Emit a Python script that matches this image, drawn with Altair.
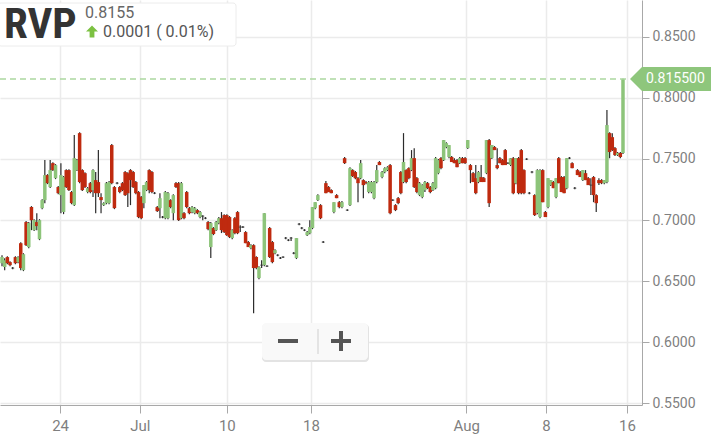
import altair as alt
import pandas as pd

# OHLC candles, oldest first
open_px = [
    .6646, .6614, .6696, .6655, .6606, .6696, .6655, .6810, .6589, .6983,
    .6778, .7106, .6917, .6983, .6843, .7097, .7163, .7368, .7270, .7466,
    .7343, .7270, .7204, .7065, .7409, .7409, .7229, .7122, .7409, .7712,
    .7409, .7384, .7229, .7302, .7245, .7327, .7311, .7188, .7122, .7138,
    .7138, .7614, .7270, .7302, .7270, .7302,
    .7393, .7384, .7409, .7393, .7311, .7229, .7188, .7138, .7245, .7409,
    .7393, .7220, .7106, .7097, .7024, .7015, .7015, .7163, .7056, .7302,
    .7302, .7015, .7056, .7229, .7097, .7065, .7056, .7081, .7024, .7032,
    .7015, .6983, .6778, .6934, .6917, .6975, .7015, .7040, .7040, .7024,
    .6852, .7015, .7065, .6942, .6942, .6901, .6819, .6770, .6794, .6696,
    .6524, .6630, .6630, .6622, .6934, .6819, .6728, .6712, .6688, .6696,
    .6852, .6835, .6852, .6728, .6688, .6966, .6934, .6917, .6876, .6892,
    .6934, .7097, .7163, .7122, .6819, .7302, .7270, .7245, .7065, .7204,
    .7146, .7106, .7507, .7081, .7122, .7409, .7393, .7343, .7343, .7327,
    .7311, .7229,
    .7229, .7179, .7311, .7475, .7352, .7393, .7409, .7450, .7163, .7122,
    .7179, .7393, .7311, .7409, .7425, .7409, .7507, .7343, .7204, .7188,
    .7245, .7302, .7270, .7245, .7261, .7384, .7507, .7491, .7598, .7516,
    .7516, .7491, .7491, .7466, .7507, .7507, .7589, .7450, .7384, .7343,
    .7311, .7352, .7343, .7384, .7655,
    .7507, .7598, .7450, .7507, .7491, .7573, .7466, .7450, .7507, .7302,
    .7507, .7573, .7409, .7499, .7220, .7393, .7204, .7056, .7024, .7409,
    .7065, .7106, .7286, .7311, .7188, .7507, .7352, .7352, .7261, .7507,
    .7466, .7261, .7409, .7393, .7327, .7384, .7343, .7286, .7352, .7204,
    .7327, .7327, .7302, .7311, .7712, .7679, .7589, .7532, .7549, .7549,
]
high_px = [
    .6712, .6687, .6704, .6663, .6614, .6704, .6704, .6818, .6728, .6991,
    .6983, .7114, .7007, .7056, .7007, .7171, .7491, .7376, .7491, .7474,
    .7458, .7278, .7466, .7360, .7417, .7417, .7237, .7696, .7499, .7720,
    .7417, .7392, .7270, .7311, .7417, .7393, .7573, .7220, .7146, .7311,
    .7319, .7622, .7278, .7311, .7278, .7311,
    .7401, .7392, .7417, .7401, .7319, .7237, .7196, .7286, .7319, .7417,
    .7401, .7229, .7114, .7220, .7032, .7237, .7229, .7171, .7212, .7311,
    .7311, .7311, .7065, .7237, .7106, .7114, .7106, .7089, .7073, .7040,
    .7024, .6991, .6983, .6942, .6991, .7024, .7065, .7048, .7048, .7032,
    .6925, .7024, .7073, .6958, .6950, .6909, .6827, .6802, .6802, .6704,
    .6622, .6671, .7056, .6630, .6942, .6827, .6761, .6720, .6696, .6704,
    .6860, .6843, .6860, .6737, .6852, .6975, .6942, .6925, .6909, .6999,
    .7106, .7146, .7212, .7130, .6827, .7319, .7278, .7253, .7146, .7212,
    .7155, .7155, .7516, .7089, .7433, .7417, .7401, .7352, .7491, .7335,
    .7319, .7319,
    .7319, .7319, .7450, .7483, .7401, .7433, .7441, .7458, .7171, .7130,
    .7188, .7401, .7712, .7417, .7433, .7573, .7589, .7352, .7311, .7294,
    .7319, .7311, .7278, .7311, .7516, .7499, .7516, .7655, .7638, .7614,
    .7524, .7507, .7499, .7516, .7516, .7516, .7655, .7458, .7393, .7450,
    .7401, .7450, .7352, .7655, .7663,
    .7614, .7606, .7589, .7516, .7499, .7581, .7474, .7507, .7516, .7507,
    .7516, .7581, .7417, .7507, .7229, .7401, .7212, .7417, .7417, .7417,
    .7073, .7343, .7327, .7319, .7343, .7516, .7360, .7360, .7507, .7516,
    .7474, .7270, .7417, .7401, .7409, .7409, .7352, .7343, .7360, .7212,
    .7343, .7335, .7327, .7901, .7720, .7712, .7598, .7557, .7557, .8158,
]
low_px = [
    .6622, .6589, .6638, .6622, .6597, .6638, .6646, .6589, .6581, .6786,
    .6769, .6917, .6909, .6917, .6835, .7089, .7138, .7294, .7262, .7401,
    .7335, .7212, .7056, .7048, .7262, .7237, .7130, .7114, .7401, .7302,
    .7237, .7262, .7220, .7220, .7188, .7056, .7188, .7056, .7114, .7130,
    .7130, .7294, .7089, .7294, .7220, .7237,
    .7196, .7106, .7122, .7262, .7212, .7015, .7007, .7097, .7237, .7220,
    .7220, .7212, .7065, .7015, .7015, .7007, .7007, .7097, .6999, .7262,
    .6991, .7007, .7007, .7097, .7048, .7056, .7048, .7048, .7015, .6999,
    .7007, .6917, .6688, .6876, .6909, .6966, .6893, .6893, .6868, .6852,
    .6843, .6884, .6884, .6901, .6934, .6810, .6778, .6761, .6236, .6597,
    .6515, .6606, .6622, .6614, .6688, .6646, .6720, .6704, .6680, .6688,
    .6843, .6827, .6827, .6720, .6680, .6958, .6925, .6909, .6868, .6884,
    .6925, .7089, .7155, .7007, .6811, .7220, .7229, .7220, .7056, .7179,
    .7097, .7097, .7458, .7073, .7114, .7352, .7335, .7146, .7335, .7179,
    .7294, .7220,
    .7220, .7171, .7302, .7450, .7343, .7384, .7401, .7048, .7155, .7073,
    .7130, .7212, .7302, .7302, .7335, .7401, .7262, .7220, .7196, .7179,
    .7229, .7253, .7220, .7237, .7253, .7376, .7417, .7483, .7589, .7507,
    .7475, .7466, .7433, .7458, .7466, .7458, .7581, .7302, .7311, .7212,
    .7302, .7311, .7311, .7376, .7106,
    .7499, .7573, .7417, .7466, .7450, .7450, .7458, .7442, .7212, .7294,
    .7212, .7212, .7212, .7491, .7212, .7384, .7032, .7048, .7015, .7146,
    .7024, .7097, .7278, .7261, .7179, .7302, .7229, .7220, .7253, .7499,
    .7425, .7253, .7368, .7352, .7319, .7327, .7286, .7204, .7146, .7065,
    .7286, .7294, .7294, .7302, .7507, .7565, .7524, .7524, .7507, .7540,
]
close_px = [
    .6696, .6671, .6646, .6630, .6606, .6646, .6696, .6606, .6720, .6794,
    .6975, .6999, .6999, .6950, .6999, .7163, .7368, .7302, .7409, .7409,
    .7450, .7220, .7368, .7352, .7270, .7245, .7138, .7507, .7491, .7311,
    .7245, .7270, .7261, .7229, .7409, .7220, .7220, .7163, .7138, .7302,
    .7311, .7302, .7097, .7302, .7229, .7245,
    .7204, .7220, .7327, .7270, .7220, .7024, .7015, .7286, .7311, .7245,
    .7229, .7220, .7073, .7179, .7024, .7229, .7220, .7106, .7204, .7270,
    .6999, .7302, .7015, .7106, .7056, .7106, .7097, .7056, .7065, .7032,
    .7015, .6925, .6975, .6885, .6983, .7015, .6917, .6901, .6876, .6860,
    .6917, .6892, .6892, .6942, .6942, .6810, .6778, .6794, .6606, .6606,
    .6614, .6630, .7056, .6622, .6696, .6655, .6753, .6712, .6688, .6696,
    .6852, .6835, .6852, .6728, .6852, .6966, .6934, .6917, .6901, .6942,
    .7106, .7146, .7204, .7015, .6819, .7220, .7229, .7220, .7146, .7179,
    .7106, .7146, .7466, .7081, .7425, .7360, .7343, .7302, .7466, .7286,
    .7302, .7311,
    .7311, .7311, .7409, .7450, .7393, .7425, .7433, .7056, .7163, .7081,
    .7138, .7220, .7475, .7311, .7343, .7507, .7270, .7229, .7302, .7286,
    .7311, .7261, .7229, .7302, .7507, .7491, .7425, .7655, .7630, .7614,
    .7475, .7466, .7433, .7507, .7466, .7466, .7655, .7409, .7311, .7220,
    .7393, .7311, .7311, .7655, .7138,
    .7614, .7573, .7425, .7466, .7450, .7450, .7466, .7507, .7220, .7507,
    .7220, .7220, .7220, .7499, .7220, .7393, .7040, .7409, .7409, .7146,
    .7024, .7343, .7327, .7261, .7343, .7302, .7229, .7220, .7507, .7507,
    .7425, .7261, .7368, .7352, .7409, .7327, .7286, .7286, .7204, .7138,
    .7302, .7302, .7327, .7778, .7557, .7573, .7532, .7549, .7516, .8155,
]

# x-axis ticks, placed on the candle index
tick_pos = [21.7, 51.5, 84.0, 115.4, 173.4, 203.2, 233.5]
tick_labels = ["24", "Jul", "10", "18", "Aug", "8", "16"]
price_ticks = [0.55, 0.60, 0.65, 0.70, 0.75, 0.80, 0.85]

symbol = "RVP"
last_text = "0.8155"
change_text = "0.0001 ( 0.01%)"

UP = "#8dc47a"
DOWN = "#bf2a0f"
WICK = "#2b2b2b"
AXIS_GREY = "#a8a8a8"
LABEL_GREY = "#7f7f7f"
FONT = "Roboto"

n = len(open_px)
candles = pd.DataFrame({
    "i": list(range(n)),
    "open": open_px,
    "high": high_px,
    "low": low_px,
    "close": close_px,
})
candles["dir"] = ["up" if c >= o else "down" for o, c in zip(open_px, close_px)]

last = pd.DataFrame({"price": [close_px[-1]], "label": [f"{close_px[-1]:.6f}"]})
one = pd.DataFrame({"k": [0]})

x_scale = alt.Scale(domain=[-0.75, 239.1], nice=False, zero=False, padding=0)
y_scale = alt.Scale(domain=[0.5484, 0.8803], nice=False, zero=False, padding=0)

label_expr = (
    "[" + ",".join(f"'{t}'" for t in tick_labels) + "]"
    + "[indexof([" + ",".join(str(p) for p in tick_pos) + "], datum.value)]"
)

x_axis = alt.Axis(
    values=tick_pos, labelExpr=label_expr, title=None,
    grid=True, gridColor="#ebebeb", gridWidth=1.5,
    domainColor=AXIS_GREY, tickColor=AXIS_GREY, tickSize=8,
    labelColor=LABEL_GREY, labelFontSize=15, labelFont=FONT,
    labelPadding=5, labelFlush=False,
)
y_axis = alt.Axis(
    orient="right", values=price_ticks, format=".4f", title=None,
    grid=True, gridColor="#ebebeb", gridWidth=1.5,
    domainColor=AXIS_GREY, tickColor=AXIS_GREY, tickSize=7,
    labelColor=LABEL_GREY, labelFontSize=14, labelFont=FONT,
    labelPadding=3, labelFlush=False,
)


def X(field):
    return alt.X(field, scale=x_scale, axis=x_axis, title=None)


def Y(field):
    return alt.Y(field, scale=y_scale, axis=y_axis, title=None)


wicks = alt.Chart(candles).mark_rule(color=WICK, strokeWidth=1.2).encode(
    x=X("i:Q"), y=Y("low:Q"), y2="high:Q"
)
bodies = alt.Chart(candles).mark_bar(size=3.5).encode(
    x=X("i:Q"), y=Y("open:Q"), y2="close:Q",
    color=alt.Color("dir:N", scale=alt.Scale(domain=["up", "down"], range=[UP, DOWN]), legend=None),
)
dojis = alt.Chart(candles).transform_filter("datum.open == datum.close").mark_tick(
    orient="horizontal", size=3, thickness=1, color=WICK
).encode(x=X("i:Q"), y=Y("open:Q"))

# last price guide and tag
last_line = alt.Chart(last).mark_rule(color="#acd8a0", strokeDash=[6, 4], strokeWidth=1.5).encode(
    y=Y("price:Q"), x=alt.value(0), x2=alt.value(626)
)
tag_shape = "M-1,0L-0.733,-0.267L1,-0.267L1,0.267L-0.733,0.267Z"
last_tag = alt.Chart(last).mark_point(
    shape=tag_shape, filled=True, size=8100, color="#8ec67c", opacity=1, strokeWidth=0
).encode(x=alt.value(675), y=Y("price:Q"))
last_label = alt.Chart(last).mark_text(
    align="left", baseline="middle", color="white", fontSize=14, font=FONT
).encode(x=alt.value(646), y=Y("price:Q"), text="label:N")

# quote header
header_box = alt.Chart(one).mark_rect(
    fill="white", stroke="#ececec", strokeWidth=1, cornerRadius=3
).encode(x=alt.value(-2), x2=alt.value(236), y=alt.value(3), y2=alt.value(46))
header_symbol = alt.Chart(one).mark_text(
    align="left", baseline="alphabetic", fontSize=43, fontWeight="bold",
    font="Roboto Condensed, Liberation Sans Narrow, Roboto", color="#333333",
).encode(x=alt.value(4), y=alt.value(38), text=alt.value(symbol))
header_last = alt.Chart(one).mark_text(
    align="left", baseline="alphabetic", fontSize=16, font=FONT, color="#666666"
).encode(x=alt.value(85), y=alt.value(18), text=alt.value(last_text))
header_arrow = alt.Chart(one).mark_point(
    shape="M0,-1L1,0L0.4,0L0.4,1L-0.4,1L-0.4,0L-1,0Z", filled=True, size=144,
    color="#7cc142", opacity=1, strokeWidth=0,
).encode(x=alt.value(92), y=alt.value(31.5))
header_change = alt.Chart(one).mark_text(
    align="left", baseline="alphabetic", fontSize=16, font=FONT, color="#555555"
).encode(x=alt.value(103), y=alt.value(37), text=alt.value(change_text))

# zoom buttons
zoom_shadow = alt.Chart(one).mark_rect(fill="#e3e3e3", cornerRadius=4).encode(
    x=alt.value(262), x2=alt.value(369), y=alt.value(324), y2=alt.value(362)
)
zoom_box = alt.Chart(one).mark_rect(fill="#f9f9f9", cornerRadius=4).encode(
    x=alt.value(262), x2=alt.value(368), y=alt.value(323), y2=alt.value(360)
)
zoom_sep = alt.Chart(one).mark_rule(color="#cfcfcf", strokeWidth=1).encode(
    x=alt.value(318), y=alt.value(329), y2=alt.value(354)
)
minus_bar = alt.Chart(one).mark_rule(color="#555555", strokeWidth=4).encode(
    x=alt.value(278), x2=alt.value(298), y=alt.value(341)
)
plus_h = alt.Chart(one).mark_rule(color="#555555", strokeWidth=4).encode(
    x=alt.value(331), x2=alt.value(351), y=alt.value(341)
)
plus_v = alt.Chart(one).mark_rule(color="#555555", strokeWidth=4).encode(
    x=alt.value(341), y=alt.value(331), y2=alt.value(351)
)

chart = alt.layer(
    wicks, bodies, dojis, last_line, last_tag, last_label,
    header_box, header_symbol, header_last, header_arrow, header_change,
    zoom_shadow, zoom_box, zoom_sep, minus_bar, plus_h, plus_v,
).properties(
    width=642, height=405,
    autosize=alt.AutoSizeParams(type="none"),
    padding={"left": 0, "top": 0, "right": 69, "bottom": 40},
).configure_view(stroke=None)

chart.save("out.html", embed_options={"renderer": "svg", "actions": False})
